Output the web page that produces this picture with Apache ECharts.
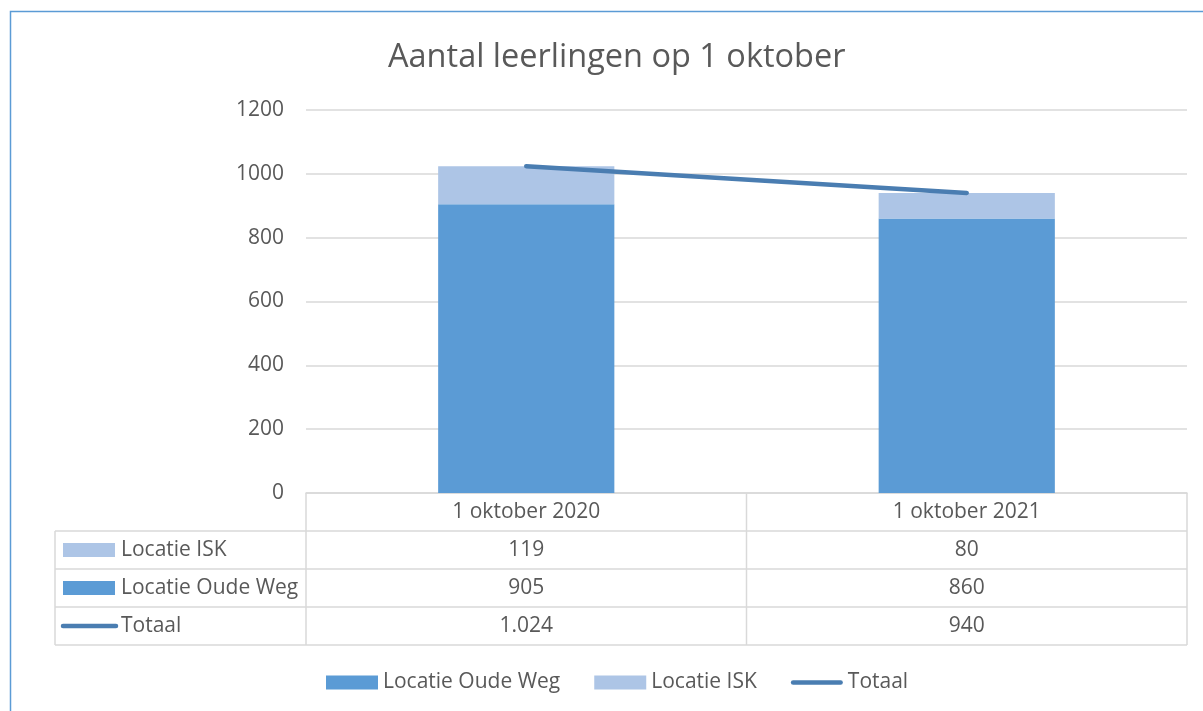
<!DOCTYPE html>
<html>
<head>
<meta charset="utf-8">
<script src="https://cdn.jsdelivr.net/npm/echarts@6/dist/echarts.min.js"></script>
<style>html,body{margin:0;padding:0;background:#fff;}#c{width:1203px;height:711px;}</style>
</head>
<body>
<div id="c"></div>
<script>
const categories = ['1 oktober 2020', '1 oktober 2021'];
const oudeWeg = [905, 860];
const isk = [119, 80];
const totaal = [1024, 940];
const yTicks = [0, 200, 400, 600, 800, 1000, 1200];

const FONT = 'Open Sans';
const TXT = '#595959';
const C_OUDE = '#5b9bd5';
const C_ISK = '#adc5e6';
const C_TOT = '#4a7db1';
const GRIDC = '#d9d9d9';
const FS = 21;

function nl(v) { return String(v).replace(/\B(?=(\d{3})+(?!\d))/g, '.'); }

const G = { left: 306, right: 16, top: 110, bottom: 218 };
const axisY = 711 - G.bottom; // 493
const ROW = 38;
const tableLeft = 55;
const plotRight = 1203 - G.right;

const rows = [
  { name: 'Locatie ISK', vals: isk, kind: 'rect', color: C_ISK },
  { name: 'Locatie Oude Weg', vals: oudeWeg, kind: 'rect', color: C_OUDE },
  { name: 'Totaal', vals: totaal, kind: 'line', color: C_TOT }
];

const lbl = { fontFamily: FONT, fontSize: FS, color: TXT };

const xAxes = [{
  type: 'category', data: categories, gridIndex: 0, position: 'bottom',
  axisLine: { show: true, lineStyle: { color: GRIDC, width: 1.5 } },
  axisTick: { show: false },
  axisLabel: Object.assign({ margin: ROW / 2, verticalAlign: 'middle' }, lbl)
}];
rows.forEach((r, i) => {
  xAxes.push({
    type: 'category', data: categories, gridIndex: 0, position: 'bottom', offset: ROW * (i + 1),
    axisLine: { show: false }, axisTick: { show: false },
    axisLabel: Object.assign({ margin: ROW / 2, verticalAlign: 'middle',
      formatter: (v, idx) => nl(r.vals[idx]) }, lbl)
  });
});

const graphics = [];
graphics.push({ type: 'rect', shape: { x: 10.5, y: 11.5, width: 1400, height: 900 },
  style: { fill: 'none', stroke: '#5b9bd5', lineWidth: 1.5 }, silent: true });
const lineStyle = { stroke: GRIDC, lineWidth: 1.5 };
for (let i = 1; i <= 4; i++) {
  const y = axisY + ROW * i;
  graphics.push({ type: 'line', shape: { x1: tableLeft, y1: y, x2: plotRight, y2: y }, style: lineStyle, silent: true });
}
const midX = (G.left + plotRight) / 2;
[G.left, midX, plotRight].forEach(x => {
  graphics.push({ type: 'line', shape: { x1: x, y1: axisY, x2: x, y2: axisY + ROW * 4 }, style: lineStyle, silent: true });
});
graphics.push({ type: 'line', shape: { x1: tableLeft, y1: axisY + ROW, x2: tableLeft, y2: axisY + ROW * 4 }, style: lineStyle, silent: true });
rows.forEach((r, i) => {
  const cy = axisY + ROW * (i + 1) + ROW / 2;
  if (r.kind === 'rect') {
    graphics.push({ type: 'rect', shape: { x: 63, y: cy - 7, width: 52, height: 14 }, style: { fill: r.color }, silent: true });
  } else {
    graphics.push({ type: 'line', shape: { x1: 63, y1: cy, x2: 116, y2: cy }, style: { stroke: r.color, lineWidth: 4.5, lineCap: 'round' }, silent: true });
  }
  graphics.push({ type: 'text', x: 121, y: cy, style: { text: r.name, font: FS + 'px "' + FONT + '"', fill: TXT, verticalAlign: 'middle', align: 'left' }, silent: true });
});

const lineIcon = 'path://M2.25,0 L49.75,0 A2.25,2.25 0 0 1 49.75,4.5 L2.25,4.5 A2.25,2.25 0 0 1 2.25,0 Z';

const chart = echarts.init(document.getElementById('c'), null, { renderer: 'canvas' });
chart.setOption({
  backgroundColor: '#fff',
  animation: false,
  title: { text: 'Aantal leerlingen op 1 oktober', left: 383, top: 36,
    textStyle: { fontFamily: FONT, fontSize: 32.5, fontWeight: 'normal', color: TXT } },
  grid: G,
  legend: {
    data: [
      { name: 'Locatie Oude Weg', icon: 'rect' },
      { name: 'Locatie ISK', icon: 'rect' },
      { name: 'Totaal', icon: lineIcon }
    ],
    left: 321, top: 667, itemWidth: 52, itemHeight: 14, itemGap: 34, symbolKeepAspect: true,
    textStyle: { fontFamily: FONT, fontSize: FS, color: TXT }
  },
  xAxis: xAxes,
  yAxis: {
    type: 'value', min: yTicks[0], max: yTicks[yTicks.length - 1], interval: 200,
    axisLine: { show: false }, axisTick: { show: false },
    axisLabel: Object.assign({ margin: 22, formatter: v => String(v) }, lbl),
    splitLine: { lineStyle: { color: GRIDC, width: 1.5 } }
  },
  series: [
    { name: 'Locatie Oude Weg', type: 'bar', stack: 's', data: oudeWeg, barWidth: '40%',
      itemStyle: { color: C_OUDE } },
    { name: 'Locatie ISK', type: 'bar', stack: 's', data: isk, barWidth: '40%',
      itemStyle: { color: C_ISK } },
    { name: 'Totaal', type: 'line', data: totaal, symbol: 'none', z: 5,
      lineStyle: { color: C_TOT, width: 4.5, cap: 'round' }, itemStyle: { color: C_TOT } }
  ],
  graphic: graphics
});
</script>
</body>
</html>
